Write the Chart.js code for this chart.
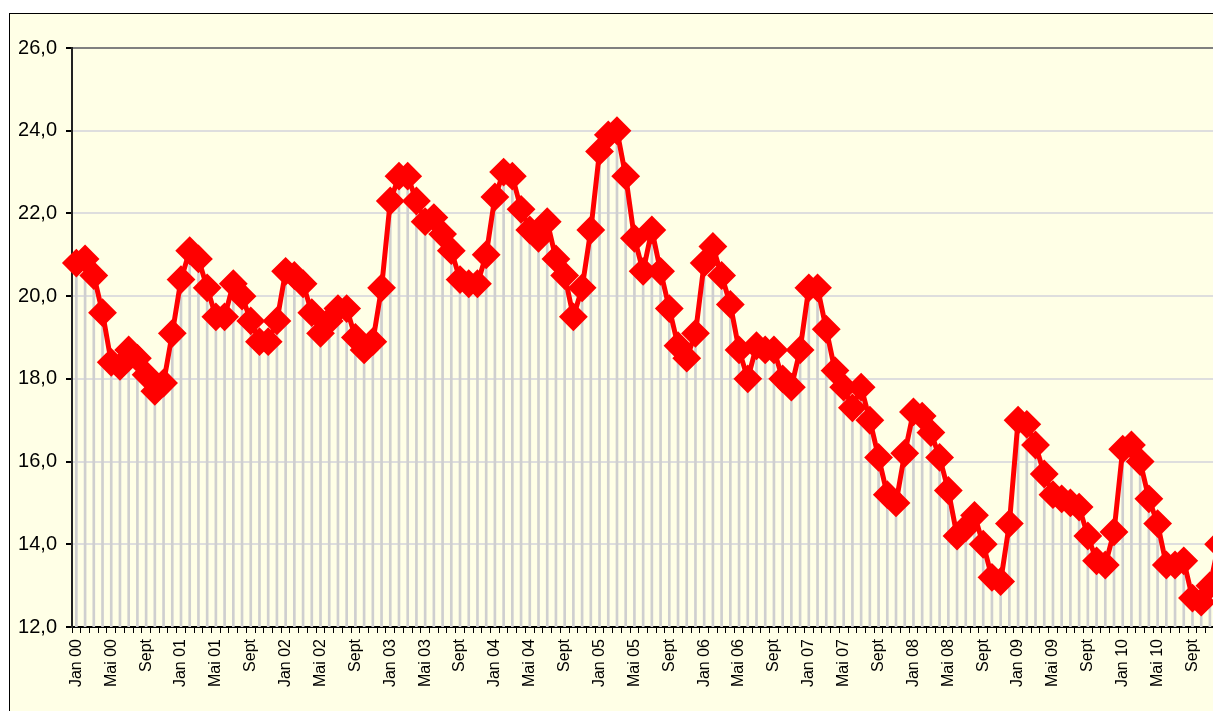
<!DOCTYPE html>
<html>
<head>
<meta charset="utf-8">
<script src="https://cdn.jsdelivr.net/npm/chart.js@4.4.1/dist/chart.umd.min.js"></script>
<style>
  html, body { margin: 0; padding: 0; background: #fff; overflow: hidden; }
  #frame {
    position: absolute; left: 9px; top: 13px;
    width: 1400px; height: 800px;
    border: 1px solid #000;
    background: #FFFFE6;
    overflow: hidden;
  }
  #chart { position: absolute; left: 0; top: 0; }
</style>
</head>
<body>
<div id="frame"><canvas id="chart" width="1240" height="697"></canvas></div>
<script>
// monthly values Jan 00 .. Dec 10
const years = ["00", "01", "02", "03", "04", "05", "06", "07", "08", "09", "10"];
const monthNames = ["Jan", "Feb", "Mär", "Apr", "Mai", "Jun", "Jul", "Aug", "Sept", "Okt", "Nov", "Dez"];

const values = [
    20.8, 20.9, 20.5, 19.6, 18.4, 18.3, 18.7, 18.5, 18.1, 17.7, 17.9, 19.1,
    20.4, 21.1, 20.9, 20.2, 19.5, 19.5, 20.3, 20.0, 19.4, 18.9, 18.9, 19.4,
    20.6, 20.5, 20.3, 19.6, 19.1, 19.4, 19.7, 19.7, 19.0, 18.7, 18.9, 20.2,
    22.3, 22.9, 22.9, 22.3, 21.8, 21.9, 21.5, 21.1, 20.4, 20.3, 20.3, 21.0,
    22.4, 23.0, 22.9, 22.1, 21.6, 21.4, 21.8, 20.9, 20.5, 19.5, 20.2, 21.6,
    23.5, 23.9, 24.0, 22.9, 21.4, 20.6, 21.6, 20.6, 19.7, 18.8, 18.5, 19.1,
    20.8, 21.2, 20.5, 19.8, 18.7, 18.0, 18.8, 18.7, 18.7, 18.0, 17.8, 18.7,
    20.2, 20.2, 19.2, 18.2, 17.8, 17.3, 17.8, 17.0, 16.1, 15.2, 15.0, 16.2,
    17.2, 17.1, 16.7, 16.1, 15.3, 14.2, 14.4, 14.7, 14.0, 13.2, 13.1, 14.5,
    17.0, 16.9, 16.4, 15.7, 15.2, 15.1, 15.0, 14.9, 14.2, 13.6, 13.5, 14.3,
    16.3, 16.4, 16.0, 15.1, 14.5, 13.5, 13.5, 13.6, 12.7, 12.6, 13.0, 14.0
];

// shown on every 4th month
const tickLabels = [
    "Jan 00", "Mai 00", "Sept", "Jan 01", "Mai 01", "Sept", "Jan 02", "Mai 02", "Sept",
    "Jan 03", "Mai 03", "Sept", "Jan 04", "Mai 04", "Sept", "Jan 05", "Mai 05", "Sept",
    "Jan 06", "Mai 06", "Sept", "Jan 07", "Mai 07", "Sept", "Jan 08", "Mai 08", "Sept",
    "Jan 09", "Mai 09", "Sept", "Jan 10", "Mai 10", "Sept"
];

let months = [];
years.forEach(y => monthNames.forEach(m => months.push(m + " " + y)));

const fontFam = "'Liberation Sans', Arial, sans-serif";

new Chart(document.getElementById("chart"), {
    type: "line",
    data: {
        labels: months,
        datasets: [
            {
                // drop lines from every point to the axis
                type: "bar",
                data: values,
                backgroundColor: "#CFCFCF",
                barThickness: 2,
                order: 2
            },
            {
                type: "line",
                data: values,
                borderColor: "#FF0000",
                borderWidth: 5,
                pointStyle: "rectRot",
                pointRadius: 13,
                pointBackgroundColor: "#FF0000",
                pointBorderColor: "#FF0000",
                pointBorderWidth: 2,
                tension: 0,
                order: 1
            }
        ]
    },
    options: {
        responsive: false,
        animation: false,
        layout: { padding: { left: 0, top: 34, right: 27, bottom: 0 } },
        plugins: { legend: { display: false }, tooltip: { enabled: false } },
        scales: {
            x: {
                offset: true,
                grid: {
                    offset: true,
                    drawOnChartArea: false,
                    drawTicks: true,
                    tickLength: 6,
                    tickColor: "#000"
                },
                border: { color: "#000", width: 2 },
                ticks: {
                    autoSkip: false,
                    minRotation: 90,
                    maxRotation: 90,
                    padding: 6,
                    color: "#000",
                    font: { family: fontFam, size: 16 },
                    callback: (v, i) => (i % 4 === 0 ? tickLabels[i / 4] : "")
                },
                afterFit: s => { s.height = 84; }
            },
            y: {
                min: 12,
                max: 26,
                ticks: {
                    stepSize: 2,
                    color: "#000",
                    padding: 9,
                    font: { family: fontFam, size: 20 },
                    callback: v => v.toFixed(1).replace(".", ",")
                },
                grid: {
                    color: c => (c.tick && c.tick.value === 26 ? "#808080" : "#DEDEDE"),
                    lineWidth: 2,
                    tickLength: 6,
                    tickColor: "#000"
                },
                border: { color: "#222", width: 2 },
                afterFit: s => { s.width = 62; }
            }
        }
    }
});
</script>
</body>
</html>
